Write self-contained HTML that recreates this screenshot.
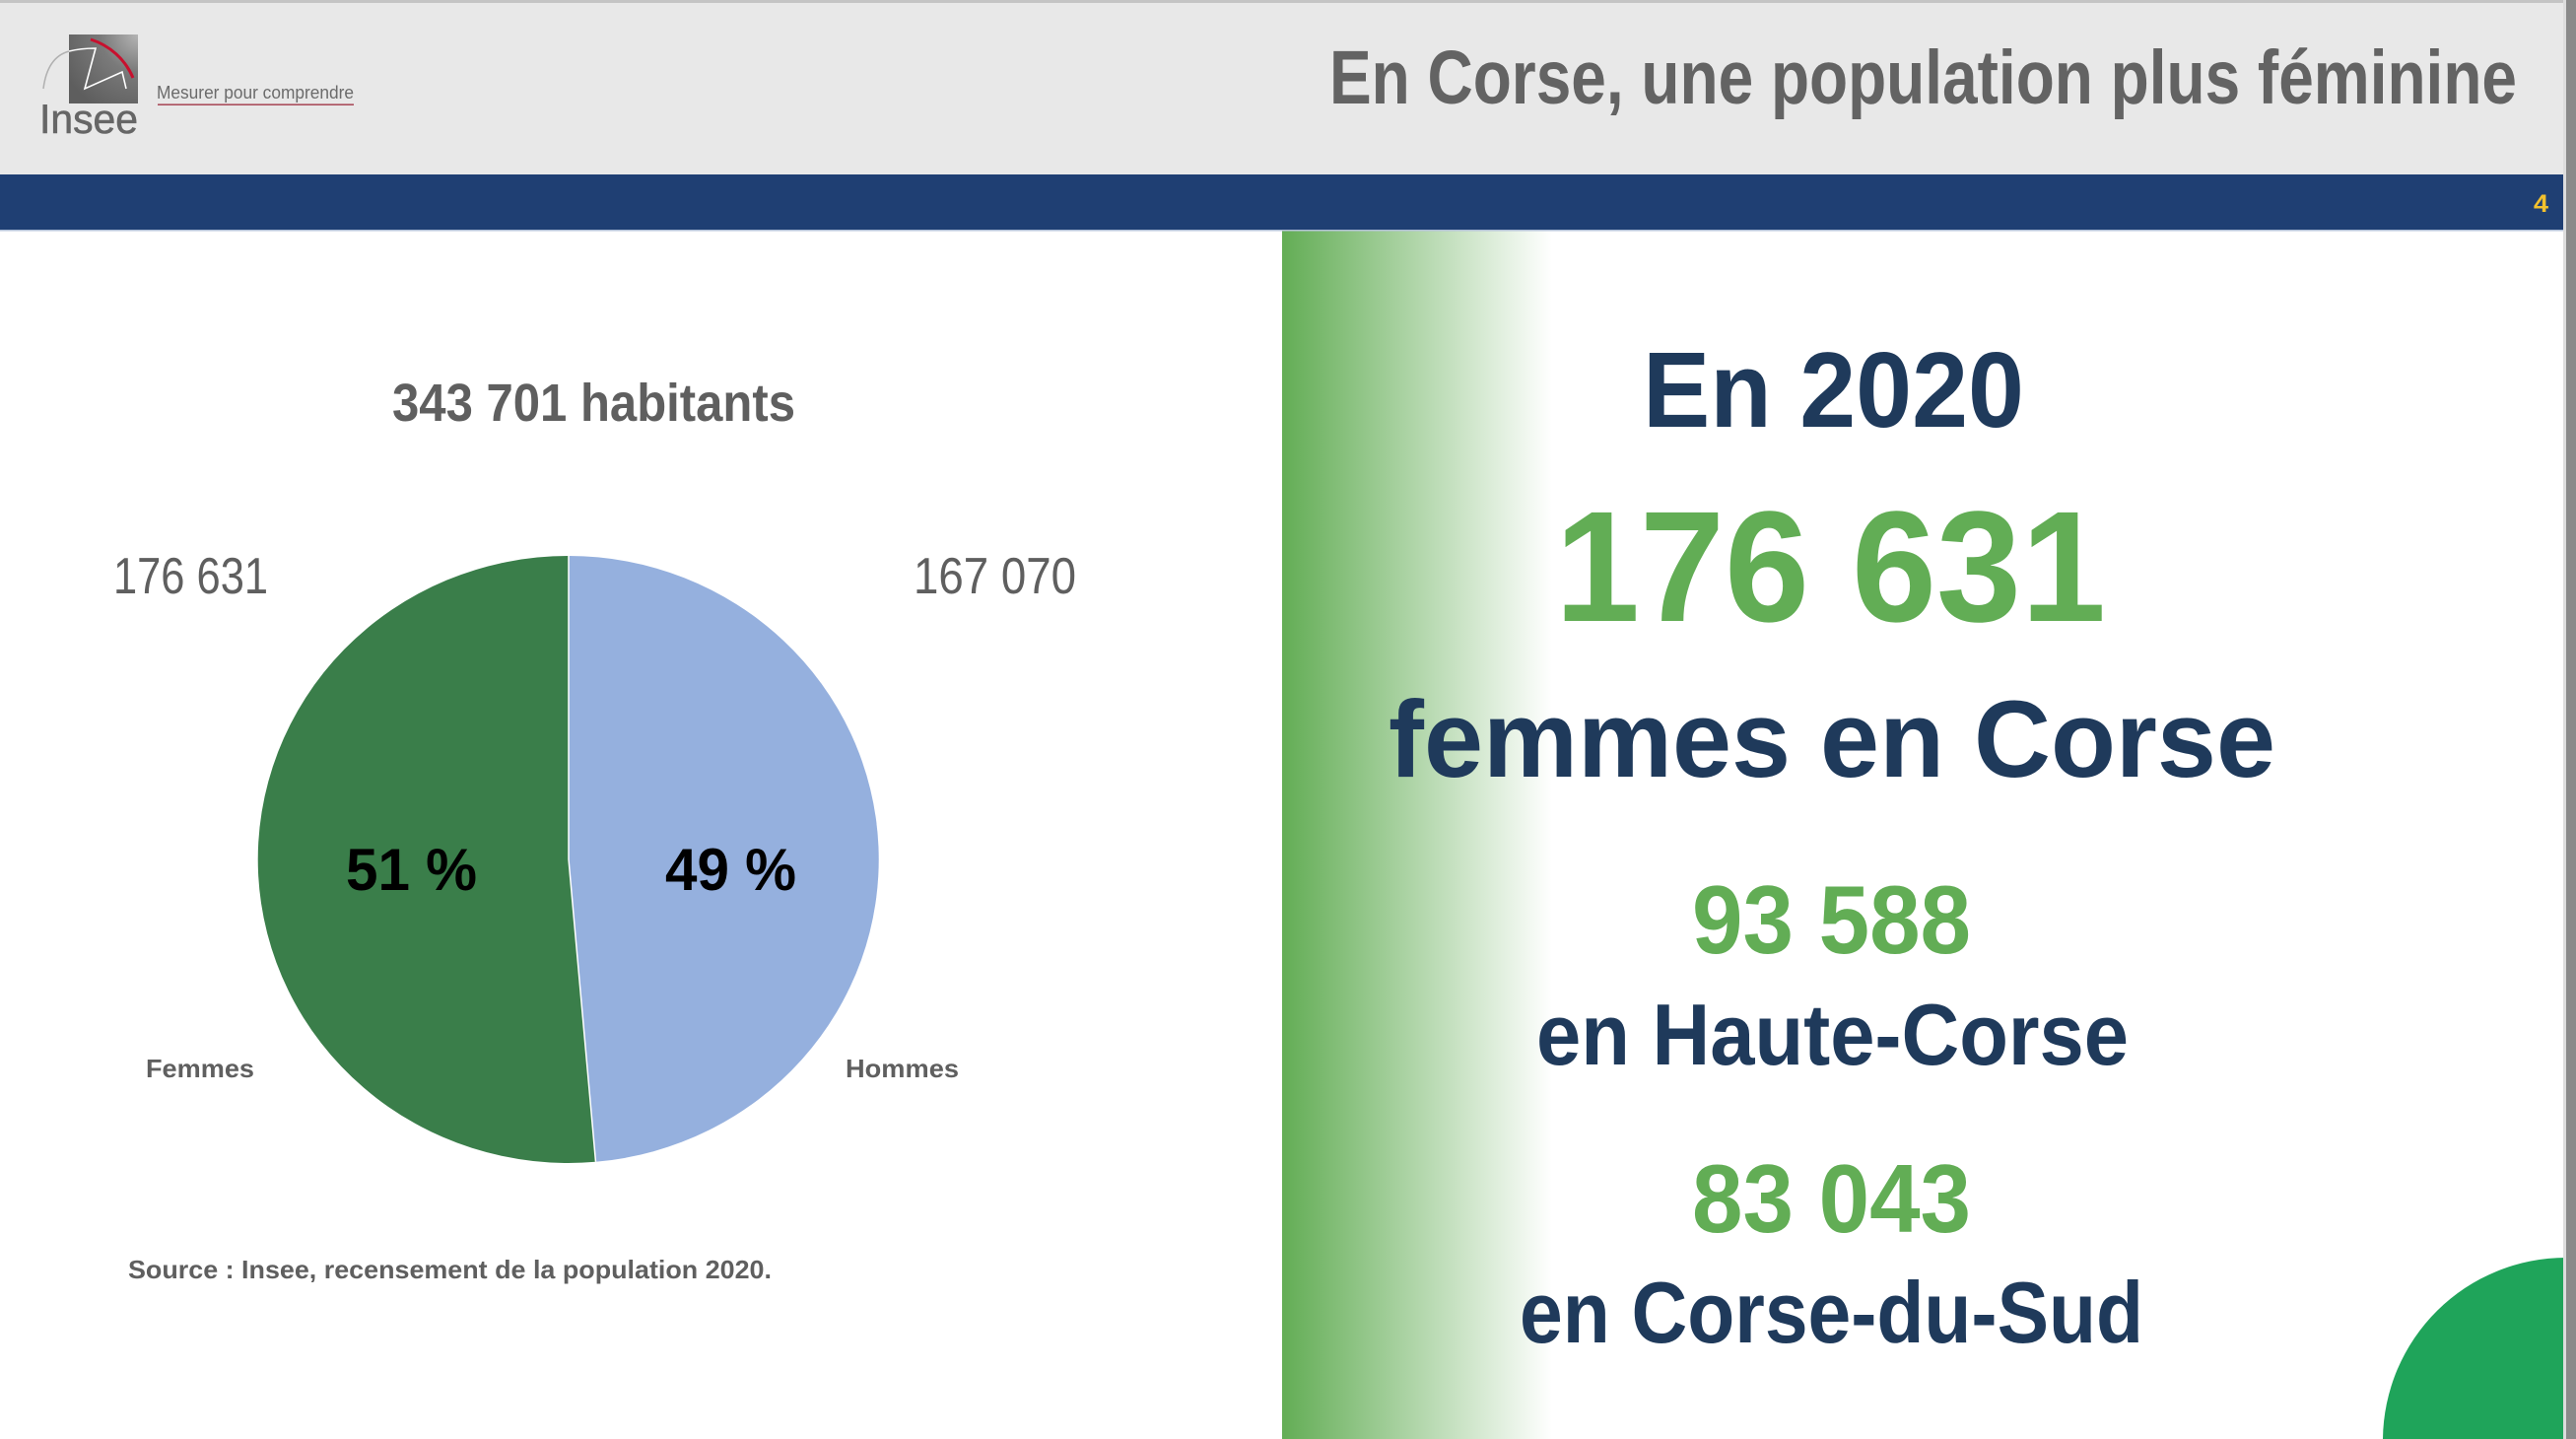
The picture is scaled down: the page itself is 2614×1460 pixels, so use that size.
<!DOCTYPE html>
<html><head><meta charset="utf-8"><style>
html,body{margin:0;padding:0;background:#fff;width:2614px;height:1460px;overflow:hidden;}
svg{display:block;}
text{font-family:"Liberation Sans",sans-serif;}
</style></head><body>
<svg width="2614" height="1460" viewBox="0 0 2614 1460" xmlns="http://www.w3.org/2000/svg">
<defs>
<linearGradient id="gs" x1="0" y1="0" x2="1" y2="0">
<stop offset="0" stop-color="#63ad55"/>
<stop offset="1" stop-color="#ffffff"/>
</linearGradient>
<radialGradient id="lg" cx="1" cy="0" r="1.2">
<stop offset="0" stop-color="#b5b5b5"/>
<stop offset="0.45" stop-color="#7a7a7a"/>
<stop offset="1" stop-color="#5e5e5e"/>
</radialGradient>
</defs>
<rect x="0" y="0" width="2614" height="1460" fill="#ffffff"/>
<!-- header -->
<rect x="0" y="0" width="2614" height="177" fill="#e8e8e8"/>
<rect x="0" y="0" width="2614" height="3" fill="#c4c4c4"/>
<rect x="0" y="177" width="2614" height="56" fill="#1f3f73"/>
<rect x="0" y="233" width="2614" height="1.5" fill="#b3c1d8"/>
<text x="2571" y="215" font-size="25" font-weight="bold" fill="#f2c12e" textLength="15" lengthAdjust="spacingAndGlyphs">4</text>
<!-- logo -->
<rect x="70" y="35" width="70" height="70" fill="url(#lg)"/>
<path d="M92,40 A69,69 0 0,1 135,79" fill="none" stroke="#c8102e" stroke-width="3"/>
<path d="M44,90 Q48,58 70,52" fill="none" stroke="#b0b0b0" stroke-width="1.5"/>
<path d="M70,52 Q82,49 97,49 L86,90 L124,73 L128,90" fill="none" stroke="#ffffff" stroke-width="1.6"/>
<text x="40" y="135" font-size="42" fill="#666666" stroke="#666666" stroke-width="0.6" textLength="100" lengthAdjust="spacingAndGlyphs">Insee</text>
<text x="159" y="100" font-size="18" fill="#6b6b6b" textLength="200" lengthAdjust="spacingAndGlyphs">Mesurer pour comprendre</text>
<rect x="160" y="105.5" width="199" height="1.3" fill="#9b2a3d"/>
<!-- title -->
<text x="1349" y="105" font-size="77" font-weight="bold" fill="#636363" textLength="1205" lengthAdjust="spacingAndGlyphs">En Corse, une population plus féminine</text>
<!-- gradient strip -->
<rect x="1301" y="234.5" width="274" height="1225.5" fill="url(#gs)"/>
<!-- green circle (clipped to frame) -->
<path d="M2418,1460 A186,186 0 0,1 2604,1276 L2604,1460 Z" fill="#1fa45a"/>
<!-- right edge -->
<rect x="2601" y="0" width="3" height="1460" fill="#dcdcdc"/>
<rect x="2604" y="0" width="10" height="1460" fill="#8a8a8a"/>
<!-- pie -->
<path d="M577,872 L577,564 A315,308 0 0,1 604.5,1178.8 Z" fill="#95b0de"/>
<path d="M577,872 L604.5,1178.8 A315,308 0 1,1 577,564 Z" fill="#3a7e4a"/>
<path d="M577,564 L577,872 L604.5,1178.8" fill="none" stroke="#ffffff" stroke-width="1.5"/>
<!-- left texts -->
<text x="398" y="427" font-size="54" font-weight="bold" fill="#5f5f5f" textLength="409" lengthAdjust="spacingAndGlyphs">343 701 habitants</text>
<text x="115" y="602" font-size="52" fill="#5f5f5f" textLength="157" lengthAdjust="spacingAndGlyphs">176 631</text>
<text x="927" y="602" font-size="52" fill="#5f5f5f" textLength="165" lengthAdjust="spacingAndGlyphs">167 070</text>
<text x="351" y="903" font-size="60" font-weight="bold" fill="#000000" textLength="133" lengthAdjust="spacingAndGlyphs">51 %</text>
<text x="675" y="903" font-size="60" font-weight="bold" fill="#000000" textLength="133" lengthAdjust="spacingAndGlyphs">49 %</text>
<text x="148" y="1093" font-size="26" font-weight="bold" fill="#5f5f5f" textLength="110" lengthAdjust="spacingAndGlyphs">Femmes</text>
<text x="858" y="1093" font-size="26" font-weight="bold" fill="#5f5f5f" textLength="115" lengthAdjust="spacingAndGlyphs">Hommes</text>
<text x="130" y="1297" font-size="26" font-weight="bold" fill="#5f5f5f" textLength="653" lengthAdjust="spacingAndGlyphs">Source : Insee, recensement de la population 2020.</text>
<!-- right texts -->
<text x="1667" y="433" font-size="109" font-weight="bold" fill="#1f3a5b" textLength="387" lengthAdjust="spacingAndGlyphs">En 2020</text>
<text x="1578" y="630" font-size="160" font-weight="bold" fill="#62ad55" textLength="559" lengthAdjust="spacingAndGlyphs">176 631</text>
<text x="1409" y="788" font-size="110" font-weight="bold" fill="#1f3a5b" textLength="900" lengthAdjust="spacingAndGlyphs">femmes en Corse</text>
<text x="1717" y="967" font-size="98" font-weight="bold" fill="#62ad55" textLength="283" lengthAdjust="spacingAndGlyphs">93 588</text>
<text x="1559" y="1080" font-size="88" font-weight="bold" fill="#1f3a5b" textLength="601" lengthAdjust="spacingAndGlyphs">en Haute-Corse</text>
<text x="1717" y="1250" font-size="98" font-weight="bold" fill="#62ad55" textLength="283" lengthAdjust="spacingAndGlyphs">83 043</text>
<text x="1542" y="1362" font-size="88" font-weight="bold" fill="#1f3a5b" textLength="633" lengthAdjust="spacingAndGlyphs">en Corse-du-Sud</text>
</svg>
</body></html>
